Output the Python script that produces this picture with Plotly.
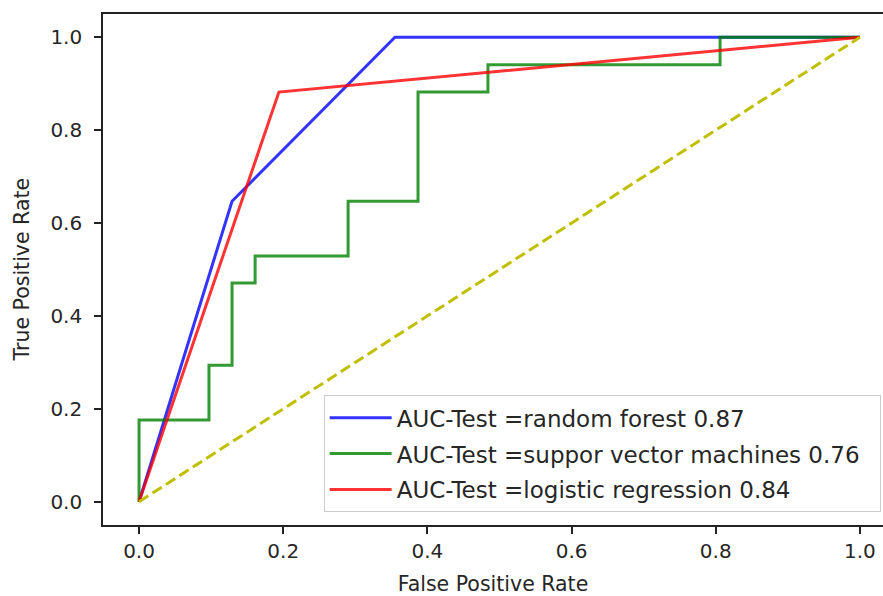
import plotly.graph_objects as go

# ROC curve data
rf_fpr = [0.0, 0.129, 0.355, 1.0]
rf_tpr = [0.0, 0.647, 1.0, 1.0]

svm_fpr = [0.0, 0.0, 0.097, 0.097, 0.129, 0.129, 0.161, 0.161, 0.290, 0.290,
           0.387, 0.387, 0.484, 0.484, 0.806, 0.806, 1.0]
svm_tpr = [0.0, 0.176, 0.176, 0.294, 0.294, 0.471, 0.471, 0.529, 0.529, 0.647,
           0.647, 0.882, 0.882, 0.941, 0.941, 1.0, 1.0]

lr_fpr = [0.0, 0.194, 1.0]
lr_tpr = [0.0, 0.882, 1.0]

diag_x = [0.0, 1.0]
diag_y = [0.0, 1.0]

names = ["AUC-Test =random forest 0.87",
         "AUC-Test =suppor vector machines 0.76",
         "AUC-Test =logistic regression 0.84"]

x_ticks = [0.0, 0.2, 0.4, 0.6, 0.8, 1.0]
y_ticks = [0.0, 0.2, 0.4, 0.6, 0.8, 1.0]

PAD = "\u00a0\u00a0"  # right padding inside the legend box
LW = 3
fig = go.Figure()
fig.add_trace(go.Scatter(x=rf_fpr, y=rf_tpr, mode="lines", name=names[0] + PAD,
                         legendgroup="rf",
                         line=dict(color="rgba(0,0,255,0.8)", width=LW)))
fig.add_trace(go.Scatter(x=svm_fpr, y=svm_tpr, mode="lines", name=names[1] + PAD,
                         legendgroup="svm",
                         line=dict(color="rgba(0,128,0,0.8)", width=LW)))
fig.add_trace(go.Scatter(x=lr_fpr, y=lr_tpr, mode="lines", name=names[2] + PAD,
                         legendgroup="lr",
                         line=dict(color="rgba(255,0,0,0.8)", width=LW)))
fig.add_trace(go.Scatter(x=diag_x, y=diag_y, mode="lines", showlegend=False,
                         line=dict(color="#bfbf00", width=LW, dash="11px,5px")))

FONT = "DejaVu Sans"
TXT = "#262626"
axis_common = dict(showgrid=False, zeroline=False, showline=True,
                   linecolor="#222", linewidth=1.6, ticks="outside", ticklen=7,
                   tickwidth=1.6, tickcolor="#222",
                   tickfont=dict(family=FONT, size=20, color=TXT))

fig.update_layout(
    width=883, height=596,
    margin=dict(l=103, r=0, t=14, b=71),
    paper_bgcolor="white", plot_bgcolor="white",
    font=dict(family=FONT, size=20, color=TXT),
    xaxis=dict(range=[-0.05, 1.032], tickvals=x_ticks, tickformat=".1f", mirror=True,
               title=dict(text="False Positive Rate", standoff=15,
                          font=dict(family=FONT, size=20.5, color=TXT)),
               **axis_common),
    yaxis=dict(range=[-0.05, 1.05], tickvals=y_ticks, tickformat=".1f", mirror=False,
               ticklabelstandoff=8,
               **axis_common),
    annotations=[dict(text="True Positive Rate", xref="paper", yref="paper",
                      x=0, y=0.5, xanchor="center", yanchor="middle",
                      xshift=-82, textangle=-90, showarrow=False,
                      font=dict(family=FONT, size=20.5, color=TXT))],
    legend=dict(x=0.997, y=0.025, xanchor="right", yanchor="bottom",
                bgcolor="rgba(255,255,255,0.8)", bordercolor="#cccccc", borderwidth=1,
                font=dict(family=FONT, size=23, color=TXT),
                itemwidth=62, tracegroupgap=3),
    showlegend=True,
)

fig.write_html("out.html")
